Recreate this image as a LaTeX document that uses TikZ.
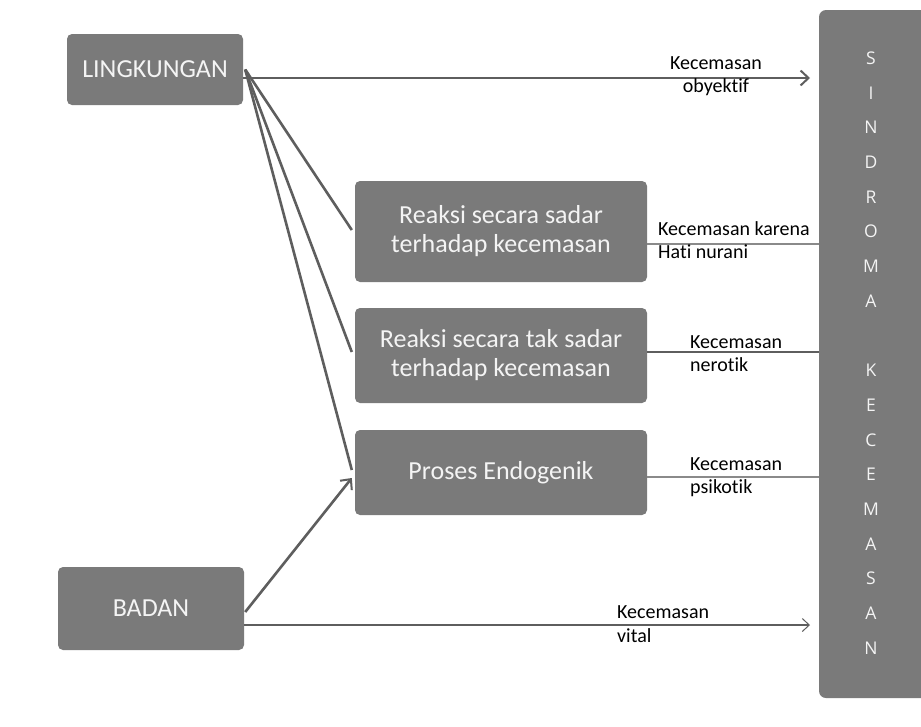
\documentclass[tikz,border=0pt]{standalone}
\usepackage{fontspec}
\setmainfont[Ligatures=NoCommon]{Carlito}
\newfontfamily\letterfont{Open Sans}
\usetikzlibrary{arrows.meta}
\definecolor{boxgray}{HTML}{7A7A7A}
\definecolor{linedark}{HTML}{5E5E5E}
\definecolor{linelight}{HTML}{8A8A8A}
\definecolor{boxtext}{HTML}{F4F4F4}
\tikzset{
  box/.style={fill=boxgray, draw=none, rounded corners=5pt, text=boxtext,
    font=\fontsize{26}{29}\selectfont, align=center, inner sep=0pt},
  lab/.style={font=\fontsize{20}{23.5}\selectfont, text=black, inner sep=0pt},
  thick line/.style={draw=linedark, line width=2.6pt},
  thin line/.style={draw=linelight, line width=1.1pt},
  chev/.style={-{Straight Barb[length=8pt,width=15pt,line width=2pt]}},
  thinchev/.style={-{Straight Barb[length=7pt,width=13pt,line width=1pt]}},
}
\begin{document}
\begin{tikzpicture}[x=1pt,y=-1pt]
\useasboundingbox[fill=white] (0,0) rectangle (921,726);
% boxes
\node[box, minimum width=176pt, minimum height=71pt] (L) at (155,69.5) {LINGKUNGAN};
\node[box, minimum width=186pt, minimum height=83pt] (B) at (151,608.5) {BADAN};
\node[box, minimum width=292pt, minimum height=101pt] (R1) at (501,231.5) {Reaksi secara sadar\\terhadap kecemasan};
\node[box, minimum width=292pt, minimum height=95pt] (R2) at (501,355.5) {Reaksi secara tak sadar\\terhadap kecemasan};
\node[box, minimum width=292pt, minimum height=85pt] (R3) at (501,472.5) {Proses Endogenik};
\fill[boxgray, rounded corners=7pt] (819,10) rectangle (935,698);
\node[inner sep=0pt, text=boxtext, align=center, font=\letterfont\fontsize{17.5}{34.7}\selectfont] (S) at (871,353)
  {S\\I\\N\\D\\R\\O\\M\\A\\[0pt] \\K\\E\\C\\E\\M\\A\\S\\A\\N};
% coordinates for connector ends
\coordinate (Lo) at ([xshift=2pt]L.east);
\coordinate (Lh) at ([yshift=-8.5pt]L.east);
\coordinate (Ltip) at (Lh -| 810,0);
\coordinate (Bh) at ([yshift=-16.5pt]B.east);
\coordinate (Btip) at (Bh -| 810,0);
\coordinate (Bo) at ([xshift=1pt,yshift=-3.5pt]B.east);
% connectors
\draw[thick line, chev] (Lh) -- (Ltip);
\draw[thick line] (Lo) -- ([xshift=-3pt,yshift=1.5pt]R1.west);
\draw[thick line] (Lo) -- ([xshift=-3pt,yshift=3.5pt]R2.west);
\draw[thick line] (Lo) -- ([xshift=-3pt,yshift=2.5pt]R3.west);
\draw[thick line, chev] (Bo) -- ([xshift=-3pt,yshift=-5.5pt]R3.west);
\draw[draw=linedark, line width=2pt, thinchev] (Bh) -- (Btip);
\draw[thin line] ([yshift=-12.5pt]R1.east) -- ++(172,0);
\draw[draw=linedark, line width=2pt] ([yshift=3.5pt]R2.east) -- ++(172,0);
\draw[thin line] ([yshift=-4.5pt]R3.east) -- ++(172,0);
% labels
\node[lab, align=center] (l1) at (716,76) {Kecemasan\\obyektif};
\node[lab, align=left, anchor=west] (l2) at (658,240) {Kecemasan karena\\Hati nurani};
\node[lab, align=left, anchor=west] (l3) at (690,353.5) {Kecemasan\\nerotik};
\node[lab, align=left, anchor=west] (l4) at (690,477) {Kecemasan\\psikotik};
\node[lab, align=left, anchor=west] (l5) at (617,624) {Kecemasan\\vital};
\end{tikzpicture}
\end{document}
